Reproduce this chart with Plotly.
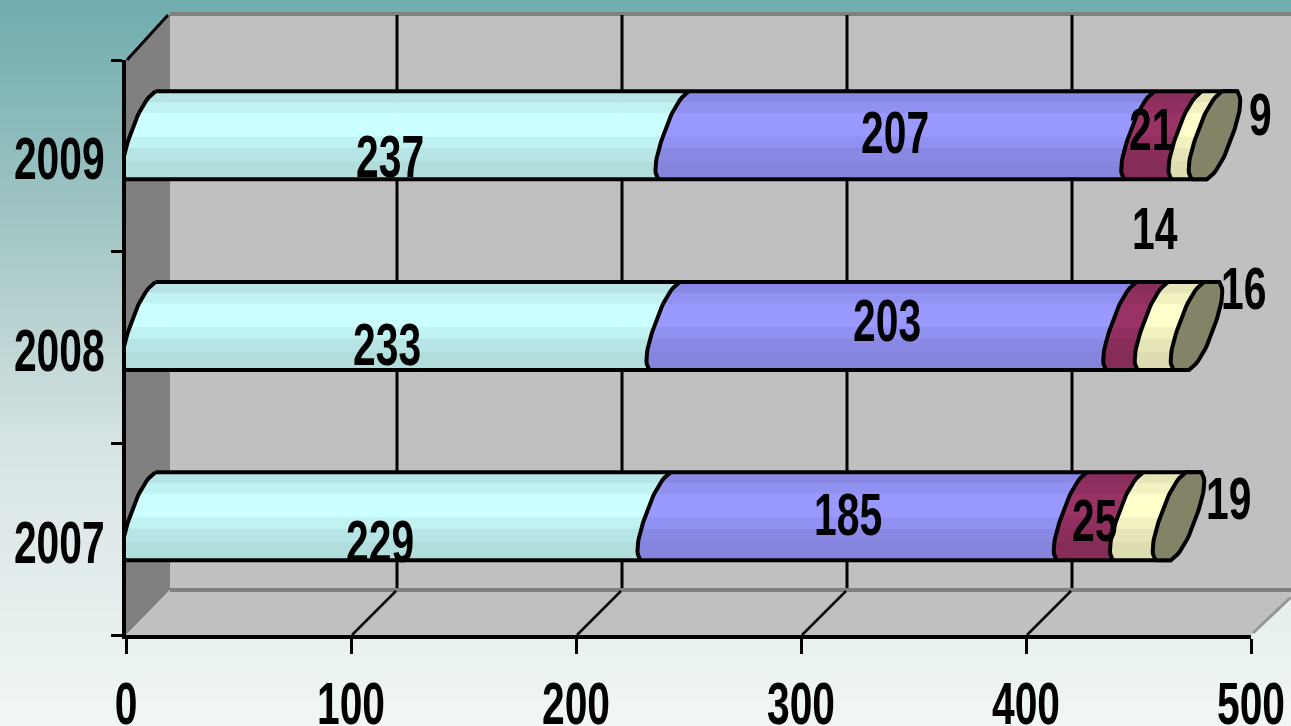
import base64, struct, zlib
import numpy as np
import plotly.graph_objects as go

# ---------- data ----------
years = ["2007", "2008", "2009"]
series_a = [229, 233, 237]
series_b = [185, 203, 207]
series_c = [25, 14, 21]
series_d = [19, 16, 9]
x_ticks = [0, 100, 200, 300, 400, 500]

# ---------- style ----------
W, H = 1291, 726
X0, X1, Y0, Y1 = 126, 1251, 635, 60      # plot area in page pixels
KX = (X1 - X0) / 500
KY = (Y0 - Y1) / 3
FONT = "Liberation Sans"
FS = 48
colors = ["#CCFFFF", "#9999FF", "#993366", "#FFFFCC"]
cap_color = "#838368"
band_edges = [0, .13, .25, .52, .65, .80, 1]
band_shade = [.90, .95, 1.0, .95, .90, .87]
half_h = 44
bar_shift = [-23, -21.5, -20.5]   # bar centre vs. category centre, px
C, A, EW, P, SM = 22, 16, 18, 2.5, 0.95


def px(x): return x / W
def py(y): return 1 - y / H


def gradient_png():
    stops_y = [0, 240, 450, 726]
    stops = np.array([[0x70, 0xAC, 0xAE], [0xA5, 0xC8, 0xC6], [0xD8, 0xE4, 0xE4], [0xF1, 0xF6, 0xF6]], float)
    raw = b""
    for y in range(H):
        rgb = [int(round(np.interp(y, stops_y, stops[:, i]))) for i in range(3)]
        raw += b"\0" + bytes(rgb) * 4

    def chunk(tag, d):
        return struct.pack(">I", len(d)) + tag + d + struct.pack(">I", zlib.crc32(tag + d) & 0xffffffff)
    png = b"\x89PNG\r\n\x1a\n" + chunk(b"IHDR", struct.pack(">IIBBBBB", 4, H, 8, 2, 0, 0, 0)) + \
        chunk(b"IDAT", zlib.compress(raw)) + chunk(b"IEND", b"")
    return "data:image/png;base64," + base64.b64encode(png).decode()


def shade(hexcol, f):
    r, g, b = [int(hexcol[i:i + 2], 16) for i in (1, 3, 5)]
    return f"rgb({int(r * f)},{int(g * f)},{int(b * f)})"


def bulge(u):
    return EW * np.clip(1 - np.abs(u * SM) ** P, 0, 1) ** (1 / P)


def left_off(u):
    """Visible left side of the slanted end, u=-1 at the bar's bottom edge, u=1 at the top edge."""
    return C + A * u * SM - bulge(u)


def right_off(u):
    return C + A * u * SM + bulge(u)


def to_y(cat, shift, u):
    return cat + 0.5 + (-shift + half_h * u) / KY


stack = [series_a, series_b, series_c, series_d]
fig = go.Figure()

# stacked cylinder bodies, one polygon set per shade band
for k, (vals, col) in enumerate(zip(stack, colors)):
    base = [sum(stack[j][i] for j in range(k)) for i in range(3)]
    for b in range(len(band_shade)):
        xs, ys = [], []
        s = np.linspace(1 - 2 * band_edges[b], 1 - 2 * band_edges[b + 1], 8)
        for i in range(3):
            y = to_y(i, bar_shift[i], s)
            xa = base[i] + left_off(s) / KX
            xb = base[i] + vals[i] + left_off(s) / KX
            xs += list(xa) + list(xb[::-1]) + [xa[0], None]
            ys += list(y) + list(y[::-1]) + [y[0], None]
        fig.add_trace(go.Scatter(x=xs, y=ys, mode="lines", fill="toself", fillcolor=shade(col, band_shade[b]),
                                 line=dict(width=1, color=shade(col, band_shade[b])), hoverinfo="skip",
                                 showlegend=False, cliponaxis=False))

# outlines
s = np.linspace(-1, 1, 30)
ox, oy = [], []
for i in range(3):
    cum = 0
    y = to_y(i, bar_shift[i], s)
    for vals in [[0, 0, 0]] + stack[:-1]:
        cum += vals[i]
        ox += list(cum + left_off(s) / KX) + [None]
        oy += list(y) + [None]
    total = cum + stack[-1][i]
    for sgn in (-1.0, 1.0):
        u = np.array(sgn)
        ox += [float(left_off(u)) / KX, total + float(right_off(u)) / KX, None]
        oy += [to_y(i, bar_shift[i], sgn)] * 2 + [None]

# end caps
cx, cy = [], []
ss = np.linspace(-1, 1, 30)
for i in range(3):
    total = sum(v[i] for v in stack)
    y = to_y(i, bar_shift[i], ss)
    cx += list(total + left_off(ss) / KX) + list(total + right_off(ss[::-1]) / KX)
    cx += [total + float(left_off(np.array(-1.0))) / KX, None]
    cy += list(y) + list(y[::-1]) + [y[0], None]
fig.add_trace(go.Scatter(x=ox, y=oy, mode="lines", line=dict(color="black", width=4), hoverinfo="skip",
                         showlegend=False, cliponaxis=False))
fig.add_trace(go.Scatter(x=cx, y=cy, mode="lines", fill="toself", fillcolor=cap_color,
                         line=dict(color="black", width=4), hoverinfo="skip", showlegend=False, cliponaxis=False))

# walls, floor and grid (decor, in page fractions)
shapes = []


def poly(points, fill, line=None, lw=0):
    path = "M" + " L".join(f"{px(a)},{py(b)}" for a, b in points) + " Z"
    shapes.append(dict(type="path", xref="paper", yref="paper", path=path, fillcolor=fill, layer="below",
                       line=dict(width=lw, color=line or fill)))


def seg(a, b, c, d, color="black", lw=3):
    shapes.append(dict(type="line", xref="paper", yref="paper", x0=px(a), y0=py(b), x1=px(c), y1=py(d),
                       layer="below", line=dict(color=color, width=lw)))


poly([(170, 14), (W + 5, 14), (W + 5, 590), (170, 590)], "#C0C0C0")
poly([(126, 60), (170, 14), (170, 590), (126, 635)], "#808080")
poly([(126, 635), (170, 590), (W + 5, 590), (1251, 635)], "#C0C0C0")
seg(170, 14, W + 5, 14, "#808080", 4)
seg(170, 590, W + 5, 590, "#808080", 4)
seg(1253, 633, 1291, 597, "#969696", 3)
seg(127, 60, 168, 15, "black", 3)
for v in x_ticks[1:-1]:
    fx = X0 + v * KX
    seg(fx + 46, 15, fx + 46, 588, "black", 3)
    seg(fx + 1, 635, fx + 45, 591, "black", 2.5)

# value labels: x = segment middle, shifted to where the picture has them
label_shift = {
    (0, 0): (-4, 2), (0, 1): (-1, -3), (0, 2): (-3, 1),
    (1, 0): (-1, -25), (1, 1): (8, -27), (1, 2): (3, -23),
    (2, 0): (9, -19), (2, 1): (32, -119), (2, 2): (3, -26),
    (3, 0): (93, -41), (3, 1): (87, -59), (3, 2): (78, -41),
}
annotations = []
for k, vals in enumerate(stack):
    for i, v in enumerate(vals):
        base = sum(stack[j][i] for j in range(k))
        dx, dy = label_shift[(k, i)]
        annotations.append(dict(x=base + v / 2, y=i + .5, text=str(v), showarrow=False, xshift=dx, yshift=-dy,
                                font=dict(family=FONT, size=FS, color="black", weight="bold")))

tick_font = dict(family=FONT, size=FS, color="black", weight="bold")
fig.update_layout(
    template="none",
    width=W, height=H, margin=dict(l=0, r=0, t=0, b=0, pad=0), autosize=False,
    paper_bgcolor="#E0E8E8", plot_bgcolor="rgba(0,0,0,0)", showlegend=False,
    shapes=shapes, annotations=annotations,
    images=[dict(source=gradient_png(), xref="paper", yref="paper", x=0, y=1, sizex=1, sizey=1,
                 sizing="stretch", xanchor="left", yanchor="top", layer="below")],
    xaxis=dict(domain=[X0 / W, X1 / W], range=[0, 500], tickvals=x_ticks, showgrid=False, zeroline=False,
               automargin=False, showline=True, linecolor="black", linewidth=3.5, ticks="outside", ticklen=15,
               tickwidth=3, tickcolor="black", ticklabelstandoff=9, ticklabeloverflow="allow", tickfont=tick_font),
    yaxis=dict(domain=[1 - Y0 / H, 1 - Y1 / H], range=[0, 3], tickvals=[.5, 1.5, 2.5], ticktext=years,
               automargin=False, showgrid=False, zeroline=False, showline=True, linecolor="black", linewidth=3.5,
               ticks="", ticklabelstandoff=0, ticklabeloverflow="allow", tickfont=tick_font,
               minor=dict(tickvals=[0, 1, 2, 3], ticks="outside", ticklen=11, tickwidth=3, tickcolor="black",
                          showgrid=False)),
)

# The reference's digits are condensed and tall; squeeze the real text elements to match.
post = """
document.documentElement.style.margin='0';document.body.style.margin='0';document.body.style.overflow='hidden';
(function(){
  function squeeze(){
    document.querySelectorAll('.xtick text, .ytick text, .annotation-text').forEach(function(t){
      if(t.dataset.sq) return;
      var b=t.getBBox(), cx=b.x+b.width/2, cy=b.y+b.height/2, old=t.getAttribute('transform')||'';
      var dy=t.closest('.ytick')?3:0;
      t.setAttribute('transform', old+' translate('+cx+','+(cy+dy)+') scale(0.85,1.22) translate('+(-cx)+','+(-cy)+')');
      t.dataset.sq='1';
    });
  }
  var gd=document.querySelector('.plotly-graph-div');
  squeeze();
  if(gd.on) gd.on('plotly_afterplot',squeeze);
  setTimeout(squeeze,100);
})();
"""
fig.write_html("out.html", post_script=post, config={"displayModeBar": False})
